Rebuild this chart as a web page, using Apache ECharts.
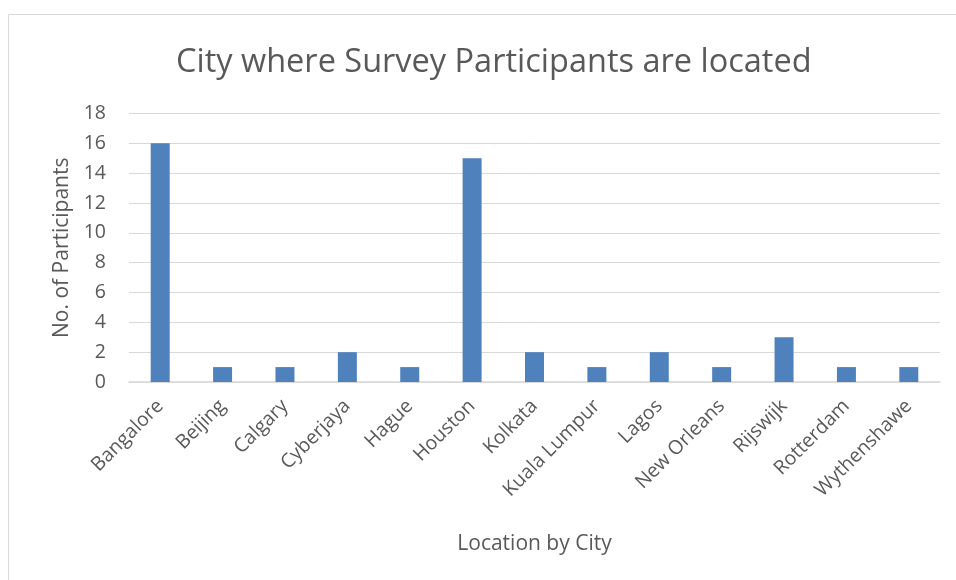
<!DOCTYPE html>
<html>
<head>
<meta charset="utf-8">
<script src="https://cdn.jsdelivr.net/npm/echarts@6/dist/echarts.min.js"></script>
<style>
html,body{margin:0;padding:0;background:#fff;}
#c{width:956px;height:580px;}
</style>
</head>
<body>
<div id="c"></div>
<script>
const categories = ["Bangalore","Beijing","Calgary","Cyberjaya","Hague","Houston","Kolkata","Kuala Lumpur","Lagos","New Orleans","Rijswijk","Rotterdam","Wythenshawe"];
const participants = [16,1,1,2,1,15,2,1,2,1,3,1,1];
const yTicks = {min:0, max:18, interval:2};

const FONT = "'Open Sans', 'Noto Sans', sans-serif";
const chart = echarts.init(document.getElementById('c'));
chart.setOption({
  backgroundColor:'#fff',
  animation:false,
  title:{
    text:'City where Survey Participants are located',
    left:171, top:41,
    textStyle:{fontFamily:FONT, fontSize:32.5, fontWeight:'normal', color:'#595959'}
  },
  graphic:[
    {type:'rect', silent:true, z:-10, shape:{x:8.5,y:14.5,width:960,height:580}, style:{fill:'none', stroke:'#d9d9d9', lineWidth:1}}
  ],
  grid:{left:129, right:16, top:113.5, bottom:198, containLabel:false},
  xAxis:{
    type:'category', data:categories,
    name:'Location by City', nameLocation:'middle', nameGap:152,
    nameTextStyle:{fontFamily:FONT, fontSize:21, color:'#595959'},
    axisLine:{show:true, lineStyle:{color:'#d9d9d9', width:1.5}},
    axisTick:{show:false},
    axisLabel:{rotate:45, interval:0, fontFamily:FONT, fontSize:19.5, color:'#595959', margin:21}
  },
  yAxis:{
    type:'value', min:yTicks.min, max:yTicks.max, interval:yTicks.interval,
    name:'No. of Participants', nameLocation:'middle', nameGap:51, nameRotate:90,
    nameTextStyle:{fontFamily:FONT, fontSize:21, color:'#595959'},
    axisLine:{show:false}, axisTick:{show:false},
    axisLabel:{fontFamily:FONT, fontSize:19.5, color:'#595959', margin:23},
    splitLine:{lineStyle:{color:'#d9d9d9', width:1}}
  },
  series:[{
    type:'bar', data:participants, barWidth:19,
    itemStyle:{color:'#4f81bd'}
  }]
});
</script>
</body>
</html>
